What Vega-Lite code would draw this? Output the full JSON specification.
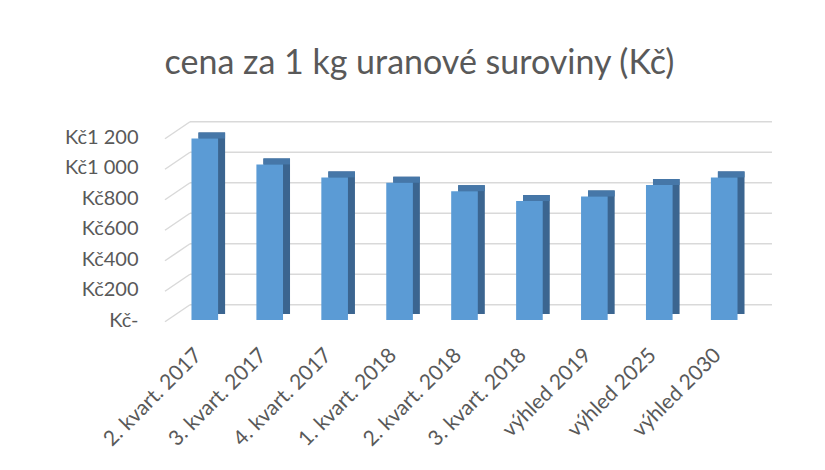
{
  "$schema": "https://vega.github.io/schema/vega-lite/v6.json",
  "autosize": {"type": "none"},
  "width": 585,
  "height": 183,
  "padding": {"left": 172, "top": 137, "right": 68, "bottom": 150},
  "background": "white",
  "title": {
    "text": "cena za 1 kg uranové suroviny (Kč)",
    "font": "Lato",
    "fontSize": 34,
    "fontWeight": "normal",
    "color": "#595959",
    "anchor": "middle",
    "dx": -45,
    "offset": 40
  },
  "config": {
    "view": {"stroke": null},
    "axis": {"labelFont": "Lato", "labelColor": "#595959", "labelFontSize": 20, "labelOverlap": false}
  },
  "datasets": {
    "bars": [
      {"obdobi": "2. kvart. 2017", "cena": 1190},
      {"obdobi": "3. kvart. 2017", "cena": 1020},
      {"obdobi": "4. kvart. 2017", "cena": 935},
      {"obdobi": "1. kvart. 2018", "cena": 900},
      {"obdobi": "2. kvart. 2018", "cena": 845},
      {"obdobi": "3. kvart. 2018", "cena": 780},
      {"obdobi": "výhled 2019", "cena": 810},
      {"obdobi": "výhled 2025", "cena": 885},
      {"obdobi": "výhled 2030", "cena": 935}
    ],
    "grid": [
      {"g": 0}, {"g": 200}, {"g": 400}, {"g": 600}, {"g": 800}, {"g": 1000}, {"g": 1200}
    ]
  },
  "layer": [
    {
      "data": {"name": "grid"},
      "layer": [
        {
          "mark": {"type": "rule", "color": "#d9d9d9", "strokeWidth": 1.5},
          "encoding": {
            "x": {"datum": 0.0308, "type": "quantitative", "scale": {"domain": [0, 1]}, "axis": null},
            "x2": {"datum": 1.0256},
            "y": {"field": "g", "type": "quantitative", "scale": {"domain": [-78, 1077]}, "axis": null}
          }
        },
        {
          "mark": {"type": "rule", "color": "#d9d9d9", "strokeWidth": 1.5, "yOffset": 17},
          "encoding": {
            "x": {"datum": -0.0120, "type": "quantitative", "axis": null},
            "x2": {"datum": 0.0308},
            "y": {"field": "g", "type": "quantitative", "axis": null},
            "y2": {"field": "g"}
          }
        }
      ]
    },
    {
      "data": {"name": "bars"},
      "layer": [
        {
          "mark": {"type": "bar", "color": "#3b6590", "xOffset": 7, "yOffset": -6, "y2Offset": -6},
          "encoding": {
            "x": {"field": "obdobi", "type": "nominal", "sort": null, "scale": {"paddingInner": 0.59, "paddingOuter": 0.3},
              "axis": {"orient": "bottom", "title": null, "labelAngle": -45, "ticks": false, "domain": false, "labelPadding": 24, "labelOffset": -14, "labelFontSize": 21}},
            "y": {"field": "cena", "type": "quantitative", "scale": {"domain": [0, 1200]},
              "axis": {"orient": "left", "title": null, "values": [0, 200, 400, 600, 800, 1000, 1200], "tickCount": 7, "grid": false, "ticks": false, "domain": false, "labelPadding": 34, "labelFontSize": 20, "labelOverlap": false, "labelSeparation": 0, "labelBound": false,
                "labelExpr": "datum.value == 0 ? 'Kč-' : 'Kč' + replace(format(datum.value, ','), ',', ' ')"}}
          }
        },
        {
          "mark": {"type": "bar", "color": "#4677a8", "xOffset": 7, "yOffset": -6},
          "encoding": {
            "x": {"field": "obdobi", "type": "nominal", "sort": null},
            "y": {"field": "cena", "type": "quantitative"},
            "y2": {"field": "cena"}
          }
        },
        {
          "mark": {"type": "bar", "color": "#5b9bd5"},
          "encoding": {
            "x": {"field": "obdobi", "type": "nominal", "sort": null},
            "y": {"field": "cena", "type": "quantitative"}
          }
        }
      ]
    }
  ],
  "resolve": {"scale": {"y": "independent", "x": "independent"}}
}
